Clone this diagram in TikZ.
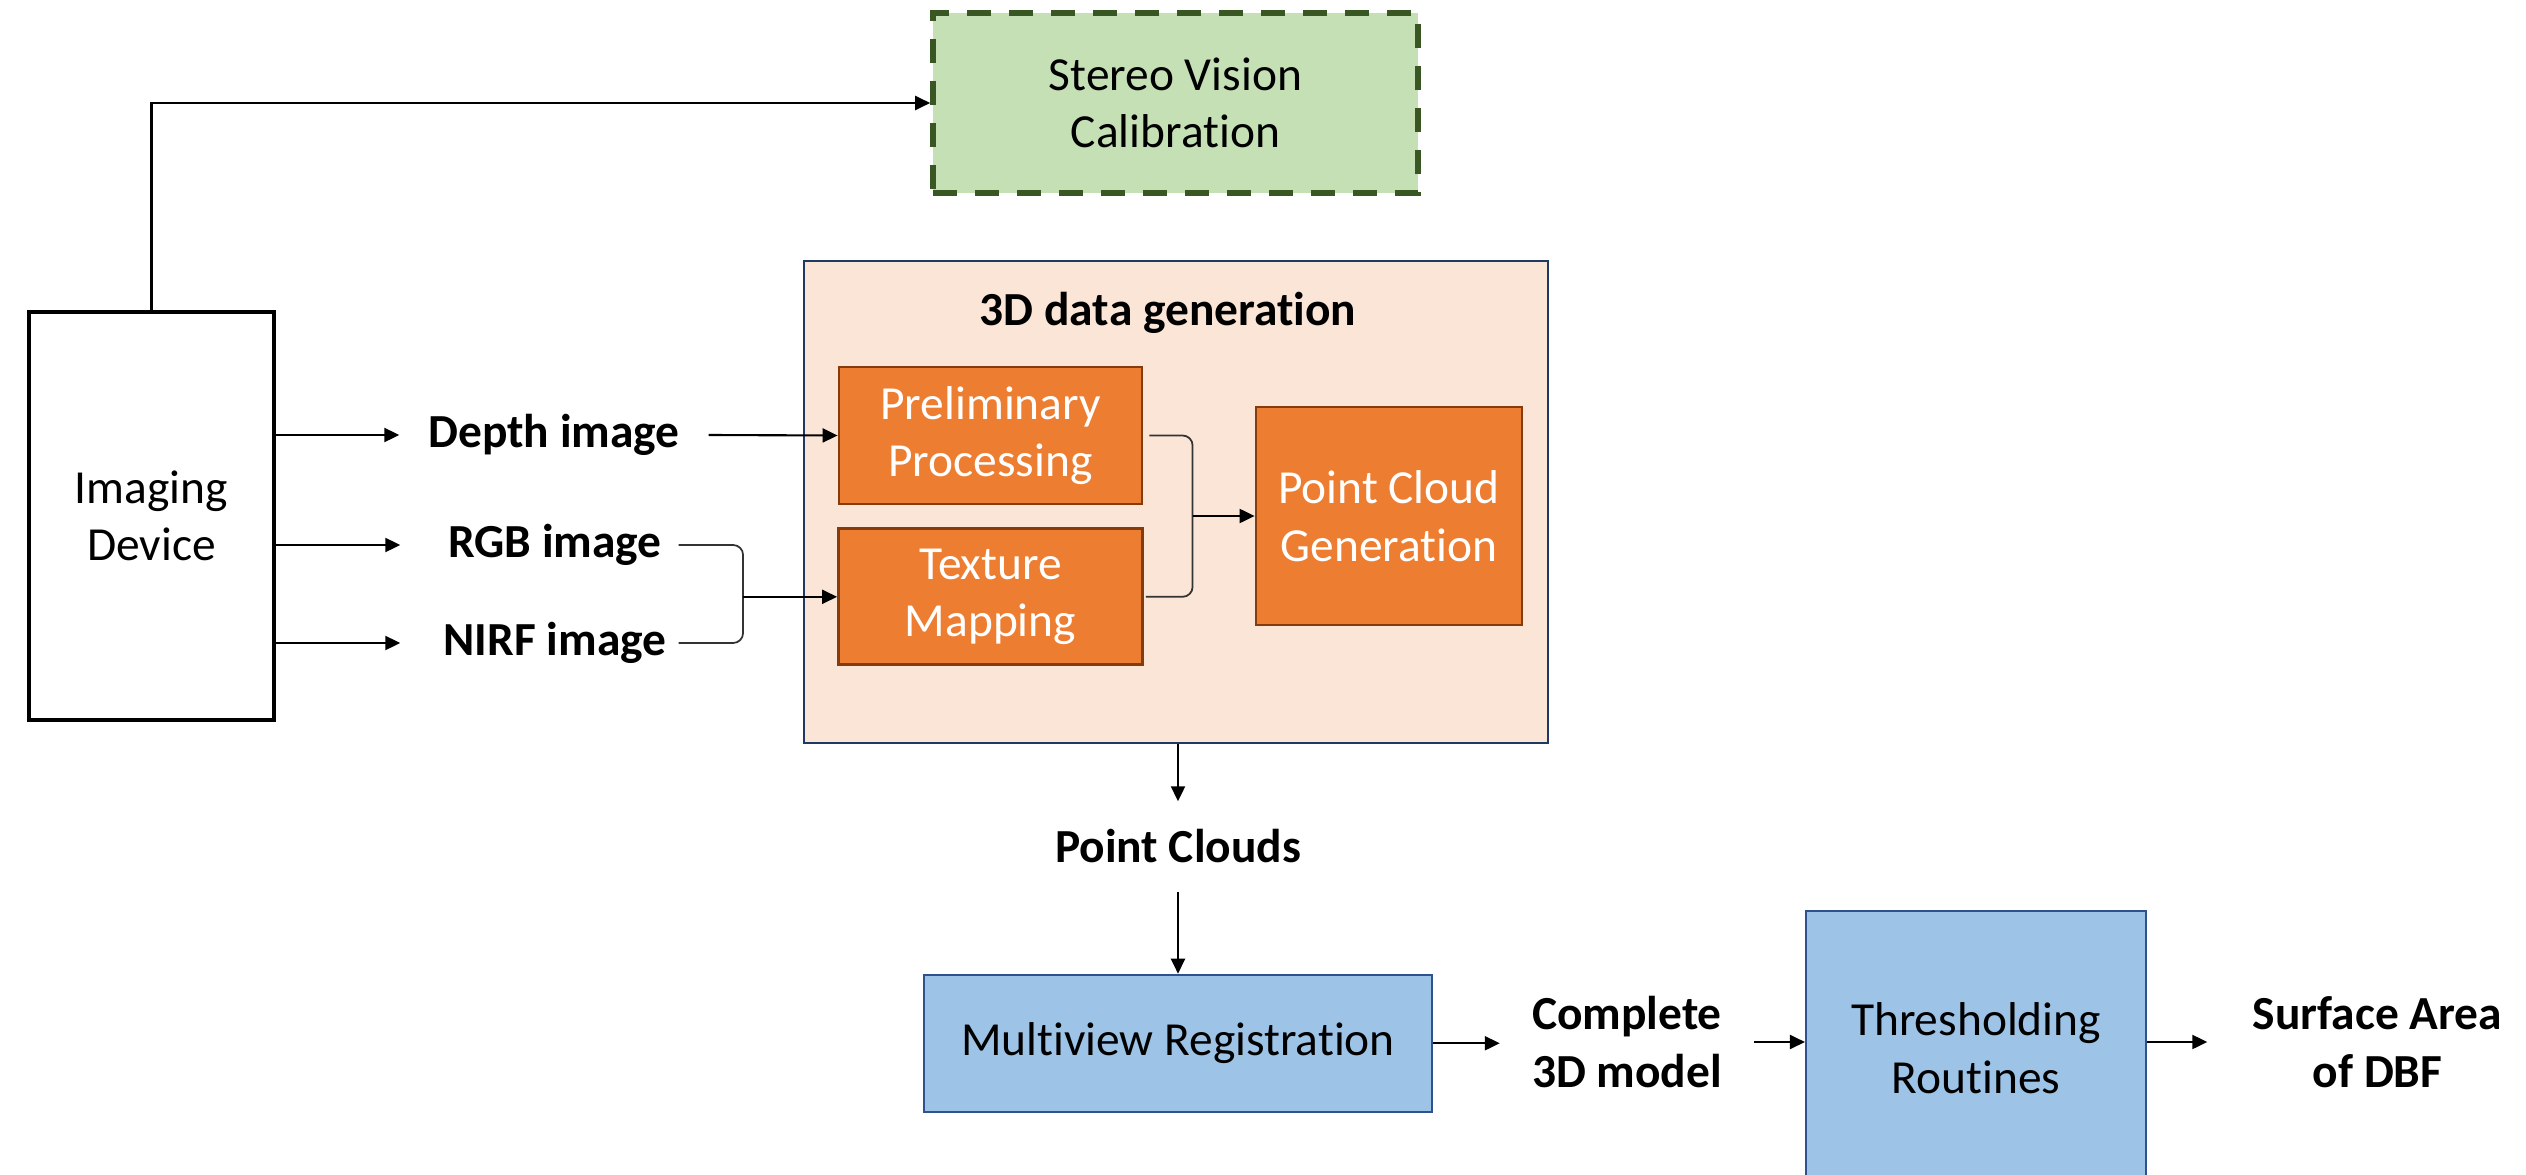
\documentclass[tikz,border=0pt]{standalone}
\usepackage{fontspec}
\setmainfont{Carlito}[Ligatures=NoCommon]
\usetikzlibrary{arrows.meta,positioning}

\definecolor{calfill}{HTML}{C5E0B4}
\definecolor{caldraw}{HTML}{385723}
\definecolor{genfill}{HTML}{FBE5D6}
\definecolor{gendraw}{HTML}{203864}
\definecolor{procfill}{HTML}{ED7D31}
\definecolor{procdraw}{HTML}{843C0C}
\definecolor{regfill}{HTML}{9DC3E6}
\definecolor{regdraw}{HTML}{2F528F}

\begin{document}
\begin{tikzpicture}[auto,>={Triangle[length=0.15cm,width=0.14cm]}]
\tikzstyle{every node}=[font=\fontsize{13.5}{16.4}\selectfont,align=center];
\tikzstyle{proc}=[draw=procdraw,line width=0.8pt,fill=procfill,text=white];
\tikzstyle{stage}=[draw=regdraw,line width=0.6pt,fill=regfill];
\tikzstyle{lbl}=[font=\fontsize{13.5}{16.4}\selectfont\bfseries,inner sep=0pt];
\tikzstyle{wire}=[line width=0.6pt];
\tikzstyle{brace}=[line width=0.5pt,draw=black!80,rounded corners=0.1cm];
\useasboundingbox (0,0) rectangle (25.26,-11.75);
% input side
\node[draw,line width=1pt,minimum width=2.45cm,minimum height=4.08cm] (dev) at (1.515,-5.16) {Imaging\\Device};
\node[draw=caldraw,fill=calfill,line width=1.6pt,dash pattern=on 0.24cm off 0.18cm,
  minimum width=4.85cm,minimum height=1.8cm] (calib) at (11.755,-1.03) {Stereo Vision\\Calibration};
\node[lbl,minimum width=3.08cm] (depth) at (5.54,-4.35) {Depth image};
\node[lbl,minimum width=3.08cm] (rgb) at (5.55,-5.45) {RGB image};
\node[lbl,minimum width=3.08cm] (nirf) at (5.55,-6.43) {NIRF image};
% 3D data generation
\node[draw=gendraw,fill=genfill,line width=0.6pt,minimum width=7.44cm,minimum height=4.82cm] (gen) at (11.76,-5.02) {};
\node[lbl] (gentitle) at (11.68,-3.13) {3D data generation};
\node[proc,minimum width=3.03cm,minimum height=1.37cm] (prep) at (9.905,-4.355) {Preliminary\\Processing};
\node[proc,minimum width=3.04cm,minimum height=1.36cm] (tex) [below=0.22cm of prep] {Texture\\Mapping};
\node[proc,minimum width=2.66cm,minimum height=2.18cm] (pcg) at (13.89,-5.16) {Point Cloud\\Generation};
\coordinate (rgbjoin) at ([xshift=-0.94cm]tex.west);
\coordinate (prepjoin) at ([xshift=-0.62cm]pcg.west);
% registration and output
\node[lbl,minimum height=0.89cm] (clouds) at (11.78,-8.465) {Point Clouds};
\node[stage,minimum width=5.08cm,minimum height=1.37cm] (mvr) [below=0.82cm of clouds] {Multiview Registration};
\node[lbl,minimum width=2.53cm] (complete) at (16.27,-10.42) {Complete\\3D model};
\node[stage,minimum width=3.4cm,minimum height=2.74cm] (thr) at (19.76,-10.48) {Thresholding\\Routines};
\node[lbl,minimum width=3.39cm] (surface) at (23.775,-10.42) {Surface Area\\of DBF};
% connectors
\draw[wire,->] (dev.north) |- (calib.west);
\path[wire,->] (dev.east |- depth) edge (depth.west);
\path[wire,->] (dev.east |- rgb) edge (rgb.west);
\path[wire,->] (dev.east |- nirf) edge (nirf.west);
\path[wire,->] (depth.east) edge (prep.west);
\draw[brace] ([xshift=-0.31cm]rgb.east) -| (rgbjoin) |- ([xshift=-0.31cm]nirf.east);
\path[wire,->] (rgbjoin) edge (tex.west);
\draw[brace] ([xshift=0.06cm]prep.east) -| (prepjoin) |- ([xshift=0.02cm]tex.east);
\path[wire,->] (prepjoin) edge (pcg.west);
\path[wire,->] (gen.south -| clouds) edge (clouds.north);
\path[wire,->] (clouds.south) edge (mvr.north);
\path[wire,->] (mvr.east) edge (mvr.east -| complete.west);
\path[wire,->] (complete.east) edge (complete.east -| thr.west);
\path[wire,->] (surface.west -| thr.east) edge (surface.west);
\end{tikzpicture}
\end{document}
